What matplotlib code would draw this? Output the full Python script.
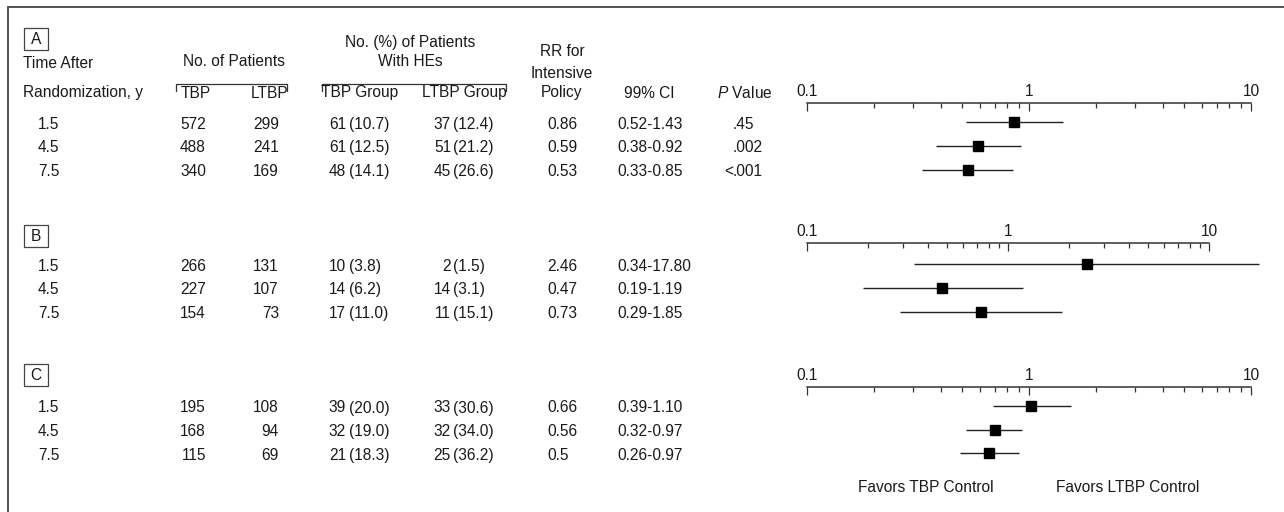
import matplotlib
matplotlib.use("Agg")
import matplotlib.pyplot as plt
from matplotlib.patches import Rectangle
from matplotlib.ticker import LogLocator, FuncFormatter, NullFormatter

# ---------------- data ----------------
times = ["1.5", "4.5", "7.5"]
panel_labels = ["A", "B", "C"]

n_tbp_A = [572, 488, 340]
n_ltbp_A = [299, 241, 169]
ev_tbp_A = [61, 61, 48]
pct_tbp_A = ["10.7", "12.5", "14.1"]
ev_ltbp_A = [37, 51, 45]
pct_ltbp_A = ["12.4", "21.2", "26.6"]
rr_txt_A = ["0.86", "0.59", "0.53"]
ci_txt_A = ["0.52-1.43", "0.38-0.92", "0.33-0.85"]
p_txt_A = [".45", ".002", "<.001"]
rr_A = [0.86, 0.59, 0.53]
lo_A = [0.52, 0.38, 0.33]
hi_A = [1.43, 0.92, 0.85]

n_tbp_B = [266, 227, 154]
n_ltbp_B = [131, 107, 73]
ev_tbp_B = [10, 14, 17]
pct_tbp_B = ["3.8", "6.2", "11.0"]
ev_ltbp_B = [2, 14, 11]
pct_ltbp_B = ["1.5", "3.1", "15.1"]
rr_txt_B = ["2.46", "0.47", "0.73"]
ci_txt_B = ["0.34-17.80", "0.19-1.19", "0.29-1.85"]
p_txt_B = ["", "", ""]
rr_B = [2.46, 0.47, 0.73]
lo_B = [0.34, 0.19, 0.29]
hi_B = [17.80, 1.19, 1.85]

n_tbp_C = [195, 168, 115]
n_ltbp_C = [108, 94, 69]
ev_tbp_C = [39, 32, 21]
pct_tbp_C = ["20.0", "19.0", "18.3"]
ev_ltbp_C = [33, 32, 25]
pct_ltbp_C = ["30.6", "34.0", "36.2"]
rr_txt_C = ["0.66", "0.56", "0.5"]
ci_txt_C = ["0.39-1.10", "0.32-0.97", "0.26-0.97"]
p_txt_C = ["", "", ""]
# values as drawn in the forest plot of panel C
rr_C = [1.02, 0.70, 0.66]
lo_C = [0.69, 0.52, 0.49]
hi_C = [1.54, 0.93, 0.90]

# ---------------- style ----------------
FONT = ["Liberation Sans", "DejaVu Sans"]
plt.rcParams["font.family"] = FONT
plt.rcParams["mathtext.fontset"] = "custom"
plt.rcParams["mathtext.rm"] = "Liberation Sans"
plt.rcParams["mathtext.it"] = "Liberation Sans:italic"
FS = 11.2
TXT = "#1a1a1a"
LINE = "#333333"

W, H = 1284, 512
fig = plt.figure(figsize=(W / 100, H / 100), dpi=100)
fig.patch.set_facecolor("white")

ov = fig.add_axes([0, 0, 1, 1])
ov.set_xlim(0, W)
ov.set_ylim(H, 0)
ov.axis("off")

# border (top + left)
ov.plot([7.5, 7.5, W + 5], [H + 5, 7.3, 7.3], color="#444444", lw=1.3,
        solid_joinstyle="miter", clip_on=False)


def t(x, y, s, ha="left", **kw):
    ov.text(x, y, s, ha=ha, va="center", fontsize=FS, color=TXT, **kw)


def letter_box(x0, y0, lab):
    ov.add_patch(Rectangle((x0, y0), 24, 22, fill=False, ec="#444444", lw=0.9))
    t(x0 + 12, y0 + 11.5, lab, ha="center")


def bracket(x0, x1, y):
    ov.plot([x0, x0, x1, x1], [y + 6.5, y, y, y + 6.5], color=LINE, lw=0.9)


# header (panel A)
t(23, 63, "Time After")
t(23, 93, "Randomization, y")
t(234, 62, "No. of Patients", ha="center")
bracket(176, 287, 84)
t(196, 93, "TBP", ha="center")
t(270, 93, "LTBP", ha="center")
t(410, 42, "No. (%) of Patients", ha="center")
t(410, 62, "With HEs", ha="center")
bracket(322, 506, 84)
t(360, 93, "TBP Group", ha="center")
t(464, 93, "LTBP Group", ha="center")
t(562, 52, "RR for", ha="center")
t(562, 73, "Intensive", ha="center")
t(562, 93, "Policy", ha="center")
t(649, 93, "99% CI", ha="center")
t(745, 93, r"$\it{P}$ Value", ha="center")

panels = [
    dict(lab="A", box_y=28, axis_y=103.3, off=19.0, x1=1251,
         n_tbp=n_tbp_A, n_ltbp=n_ltbp_A, ev_tbp=ev_tbp_A, pct_tbp=pct_tbp_A,
         ev_ltbp=ev_ltbp_A, pct_ltbp=pct_ltbp_A, rr_txt=rr_txt_A, ci_txt=ci_txt_A,
         p_txt=p_txt_A, rr=rr_A, lo=lo_A, hi=hi_A),
    dict(lab="B", box_y=225, axis_y=243.3, off=21.0, x1=1209,
         n_tbp=n_tbp_B, n_ltbp=n_ltbp_B, ev_tbp=ev_tbp_B, pct_tbp=pct_tbp_B,
         ev_ltbp=ev_ltbp_B, pct_ltbp=pct_ltbp_B, rr_txt=rr_txt_B, ci_txt=ci_txt_B,
         p_txt=p_txt_B, rr=rr_B, lo=lo_B, hi=hi_B),
    dict(lab="C", box_y=364, axis_y=386.7, off=19.3, x1=1251,
         n_tbp=n_tbp_C, n_ltbp=n_ltbp_C, ev_tbp=ev_tbp_C, pct_tbp=pct_tbp_C,
         ev_ltbp=ev_ltbp_C, pct_ltbp=pct_ltbp_C, rr_txt=rr_txt_C, ci_txt=ci_txt_C,
         p_txt=p_txt_C, rr=rr_C, lo=lo_C, hi=hi_C),
]

SP = 23.6
AX_H = 80
X0 = 807

for P in panels:
    letter_box(24, P["box_y"], P["lab"])
    rows = list(range(len(times)))
    for i in rows:
        y = P["axis_y"] + P["off"] + i * SP + 2
        t(38, y, times[i])
        t(206, y, str(P["n_tbp"][i]), ha="right")
        t(279, y, str(P["n_ltbp"][i]), ha="right")
        t(346, y, str(P["ev_tbp"][i]), ha="right")
        t(348.5, y, "(" + P["pct_tbp"][i] + ")")
        t(451, y, str(P["ev_ltbp"][i]), ha="right")
        t(453.5, y, "(" + P["pct_ltbp"][i] + ")")
        t(547, y, P["rr_txt"][i])
        t(617, y, P["ci_txt"][i])
        ptxt = P["p_txt"][i]
        if ptxt:
            k = ptxt.index(".")
            if k > 0:
                t(733, y, ptxt[:k], ha="right")
            t(733, y, ptxt[k:])

    # forest axes
    w = P["x1"] - X0
    ax = fig.add_axes([X0 / W, 1 - (P["axis_y"] + AX_H) / H, w / W, AX_H / H])
    ax.set_xscale("log")
    ax.set_xlim(0.1, 10)
    ax.set_ylim((AX_H - P["off"]) / SP, -P["off"] / SP)
    ax.patch.set_alpha(0)
    for s in ["bottom", "left", "right"]:
        ax.spines[s].set_visible(False)
    ax.spines["top"].set_color(LINE)
    ax.spines["top"].set_linewidth(1.1)
    ax.set_yticks([])
    ax.xaxis.set_ticks_position("top")
    ax.xaxis.set_major_locator(LogLocator(base=10))
    ax.xaxis.set_minor_locator(LogLocator(base=10, subs=range(2, 10)))
    ax.xaxis.set_major_formatter(FuncFormatter(lambda v, pos: "%g" % v))
    ax.xaxis.set_minor_formatter(NullFormatter())
    ax.tick_params(axis="x", which="major", direction="in", length=6.0, width=0.9,
                   color=LINE, labelsize=FS, labelcolor=TXT, pad=3)
    ax.tick_params(axis="x", which="minor", direction="in", length=3.6, width=0.9,
                   color=LINE)
    ax.hlines(rows, P["lo"], P["hi"], color="#222222", lw=1.0, clip_on=False)
    ax.plot(P["rr"], rows, "s", ms=7.2, color="black", mec="black", clip_on=False)

t(926, 488, "Favors TBP Control", ha="center")
t(1128, 488, "Favors LTBP Control", ha="center")

fig.savefig("out.png", dpi=100, facecolor="white")
